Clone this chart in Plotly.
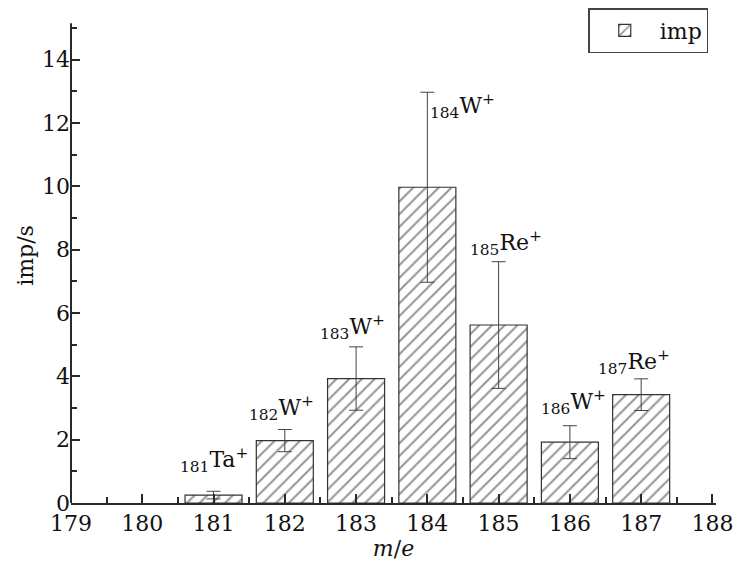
import plotly.graph_objects as go

mass = [181, 182, 183, 184, 185, 186, 187]
imp = [0.25, 1.97, 3.93, 9.97, 5.62, 1.92, 3.42]
err = [0.12, 0.35, 1.0, 3.0, 2.0, 0.52, 0.5]
ion_mass = ["181", "182", "183", "184", "185", "186", "187"]
ion_elem = ["Ta", "W", "W", "W", "Re", "W", "Re"]
label_x = [181.0, 181.95, 182.95, 184.5, 185.1, 186.05, 186.9]
label_y = [1.35, 3.0, 5.55, 12.55, 8.2, 3.2, 4.45]

font_family = "DejaVu Serif"
ink = "#2a2a2a"
y_axis_top = 15.15

fig = go.Figure()
fig.add_trace(go.Bar(
    x=mass, y=imp, width=0.8, name="imp",
    marker=dict(color="white", line=dict(color="#333333", width=1.2),
                pattern=dict(shape="/", fgcolor="#2a2a2a", bgcolor="white", size=9, solidity=0.22)),
    error_y=dict(type="data", array=err, visible=True, color="#444444", thickness=1, width=7),
    showlegend=True,
))

for mx, el, lx, ly in zip(ion_mass, ion_elem, label_x, label_y):
    fig.add_annotation(
        x=lx, y=ly, xref="x", yref="y",
        text=f"<sub>{mx}</sub>{el}<sup>+</sup>",
        showarrow=False, font=dict(family=font_family, size=22, color="#111111"),
    )

# y axis line stops at its top value, below the legend
fig.add_shape(type="line", xref="paper", yref="y", x0=0, x1=0, y0=0, y1=y_axis_top,
              line=dict(color=ink, width=2), layer="above")

axis_common = dict(
    ticks="inside", ticklen=9, tickwidth=1.5, tickcolor=ink,
    showgrid=False, zeroline=False, automargin=False,
    tickfont=dict(family=font_family, size=22, color="#111111"),
)

fig.update_xaxes(range=[179, 188.05], dtick=1, tick0=179, showline=True, linecolor=ink, linewidth=2,
                 minor=dict(ticks="inside", ticklen=6, dtick=0.5, tickcolor=ink, tickwidth=1.5),
                 title=dict(text="<i>m</i>/<i>e</i>", font=dict(family=font_family, size=22, color="#111111"), standoff=4),
                 **axis_common)
fig.update_yaxes(range=[0, 15.63], dtick=2, tick0=0, showline=False,
                 minor=dict(ticks="inside", ticklen=6, dtick=1, tickcolor=ink, tickwidth=1.5),
                 title=dict(text="imp/s", font=dict(family=font_family, size=22, color="#111111"), standoff=2),
                 **axis_common)

fig.update_layout(
    width=726, height=555,
    margin=dict(l=63, r=18, t=0, b=60),
    paper_bgcolor="white", plot_bgcolor="white",
    bargap=0.2,
    legend=dict(x=0.988, y=1.0, xanchor="right", yanchor="top",
                bordercolor="#444444", borderwidth=1.5, bgcolor="white",
                font=dict(family=font_family, size=22, color="#111111"),
                itemwidth=60, tracegroupgap=0),
)

fig.write_html("out.html")
